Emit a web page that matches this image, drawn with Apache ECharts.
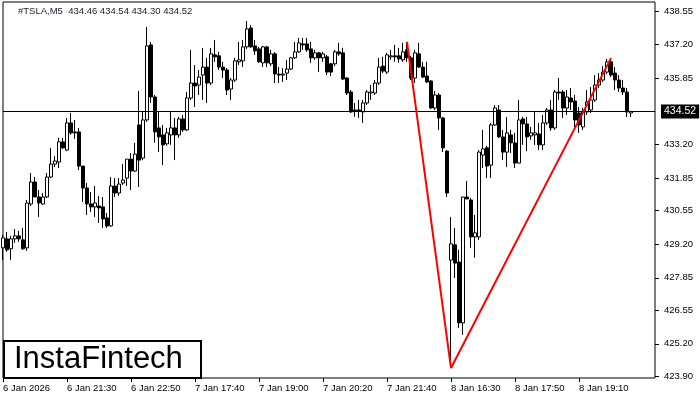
<!DOCTYPE html>
<html>
<head>
<meta charset="utf-8">
<script src="https://cdn.jsdelivr.net/npm/echarts@6/dist/echarts.min.js"></script>
<style>
  html, body { margin: 0; padding: 0; background: #fff; }
  #chart { width: 700px; height: 400px; }
</style>
</head>
<body>
<div id="chart"></div>
<script>
// M5 bars: [open, close, low, high]
const candles = [
  [429.05, 429.45, 428.56, 429.57], [429.41, 428.97, 428.89, 429.69], [429.01, 429.41, 428.56, 429.53],
  [429.41, 429.53, 429.25, 429.81], [429.53, 429.41, 429.29, 429.73], [429.37, 429.01, 428.97, 429.85],
  [429.05, 430.85, 428.93, 430.97], [430.81, 431.69, 430.73, 432.05], [431.69, 431.09, 431.09, 431.89],
  [431.09, 430.85, 430.29, 431.37], [430.81, 431.09, 430.77, 431.25], [431.09, 431.89, 431.05, 432.05],
  [431.89, 432.41, 431.85, 433.06], [432.41, 432.53, 432.29, 432.73], [432.49, 433.30, 432.25, 433.46],
  [433.30, 433.06, 433.02, 433.46], [432.97, 434.06, 432.93, 434.26], [434.06, 433.66, 433.58, 434.46],
  [433.70, 433.66, 433.42, 434.18], [433.70, 432.33, 432.17, 433.86], [432.33, 431.45, 430.89, 432.33],
  [431.45, 430.81, 430.37, 431.65], [430.81, 430.69, 430.49, 431.29], [430.69, 430.85, 430.29, 431.53],
  [430.73, 430.65, 430.05, 431.13], [430.69, 430.21, 429.85, 431.09], [430.25, 429.93, 429.85, 430.45],
  [429.93, 431.53, 429.89, 431.89], [431.53, 431.25, 431.09, 431.85], [431.25, 431.61, 431.13, 431.85],
  [431.65, 431.77, 431.57, 432.41], [431.85, 432.61, 431.53, 432.61], [432.61, 432.13, 431.37, 432.85],
  [432.13, 432.81, 432.09, 433.26],
  // 7 Jan
  [433.98, 432.57, 431.49, 435.34], [432.65, 434.18, 432.57, 434.50], [434.18, 437.15, 434.10, 437.91],
  [437.19, 435.10, 434.86, 437.31], [435.10, 433.70, 433.26, 435.18], [433.86, 433.50, 432.89, 434.50],
  [433.58, 433.18, 432.37, 433.98], [433.22, 433.66, 433.14, 433.86], [433.58, 433.86, 433.18, 434.50],
  [433.86, 433.58, 432.57, 434.26], [433.58, 434.22, 433.46, 434.30], [434.22, 433.78, 433.70, 434.38],
  [433.78, 435.06, 433.74, 435.30], [435.06, 435.66, 434.98, 436.99], [435.66, 435.54, 434.70, 436.38],
  [435.58, 435.90, 435.18, 436.18], [435.98, 436.30, 434.98, 437.07], [436.30, 435.66, 434.86, 436.67],
  [435.66, 436.83, 435.58, 437.07], [436.79, 436.71, 436.51, 437.39], [436.75, 436.30, 436.18, 436.91],
  [436.30, 436.18, 435.86, 436.51], [436.18, 435.38, 435.18, 436.26], [435.42, 435.78, 434.98, 435.86],
  [435.78, 436.55, 435.70, 436.67], [436.51, 436.59, 436.39, 437.31], [436.55, 437.11, 436.30, 437.39],
  [437.11, 437.83, 437.03, 438.15], [437.87, 437.11, 437.07, 437.99], [437.15, 436.95, 436.79, 437.39],
  [437.03, 436.51, 436.47, 437.11], [436.47, 437.11, 436.30, 437.15], [437.11, 436.47, 436.30, 437.15],
  [436.43, 436.83, 436.34, 436.99], [436.83, 436.02, 435.66, 436.91], [436.02, 435.98, 435.66, 436.30],
  [435.98, 436.02, 435.70, 436.26], [436.06, 436.22, 435.78, 436.59], [436.22, 436.67, 436.18, 436.71],
  [436.67, 436.91, 436.63, 437.31], [436.91, 437.27, 436.87, 437.47], [437.23, 437.19, 436.99, 437.47],
  [437.23, 436.99, 436.91, 437.47], [437.03, 436.67, 436.47, 437.31], [436.67, 436.87, 436.59, 436.99],
  [436.87, 436.67, 436.10, 436.91], [436.67, 436.83, 436.51, 436.91], [436.71, 436.10, 435.98, 436.79],
  [436.43, 436.10, 435.94, 436.47], [436.43, 436.91, 436.34, 436.99], [436.91, 436.83, 436.75, 437.27],
  [436.87, 435.82, 435.78, 437.07], [435.86, 435.26, 435.18, 435.90], [435.30, 434.50, 434.46, 435.38],
  [434.58, 434.54, 434.30, 434.86], [434.58, 434.54, 434.26, 434.98], [434.50, 434.86, 434.06, 434.98],
  [434.86, 435.30, 434.78, 435.38], [435.26, 435.30, 434.98, 435.58], [435.26, 435.66, 435.18, 435.78],
  [435.66, 436.30, 435.58, 436.67], [436.34, 436.14, 436.06, 436.71], [436.10, 436.79, 436.02, 436.87],
  [436.71, 436.75, 436.59, 436.99], [436.75, 436.71, 436.51, 437.19], [436.75, 436.63, 436.47, 437.07],
  [436.59, 436.91, 436.51, 437.27], [436.99, 436.67, 436.51, 437.31], [436.67, 435.86, 435.78, 436.75],
  [435.86, 436.87, 435.66, 436.99], [436.83, 436.30, 436.26, 437.27], [436.30, 435.90, 435.86, 436.51],
  [435.94, 435.70, 435.66, 436.51], [435.74, 434.66, 434.62, 435.78], [434.66, 435.18, 434.58, 435.34],
  [435.18, 434.26, 433.78, 435.26], [434.26, 433.06, 432.89, 434.30], [432.93, 431.25, 431.09, 432.97],
  // 8 Jan
  [428.56, 429.21, 424.51, 430.29], [429.17, 428.44, 427.84, 429.85], [428.48, 426.04, 425.84, 428.97],
  [426.04, 431.09, 425.56, 431.09], [431.09, 431.01, 431.01, 431.73], [430.97, 429.49, 429.05, 431.05],
  [429.49, 429.65, 428.65, 430.37], [429.49, 432.89, 429.37, 432.97], [432.77, 433.02, 432.25, 433.78],
  [433.06, 432.33, 431.85, 433.14], [432.37, 433.98, 431.85, 434.06], [433.98, 434.66, 433.94, 434.78],
  [434.58, 433.50, 433.46, 434.78], [433.50, 432.89, 432.57, 433.78], [432.89, 433.66, 432.29, 434.30],
  [433.58, 433.26, 432.85, 433.78], [433.26, 432.45, 432.25, 433.66], [432.45, 434.18, 432.45, 434.98],
  [434.22, 434.02, 433.18, 434.30], [434.02, 433.50, 432.93, 434.30], [433.54, 433.66, 433.38, 433.90],
  [433.58, 433.66, 433.18, 434.50], [433.62, 433.18, 432.97, 434.06], [433.18, 434.06, 432.97, 434.38],
  [434.06, 434.58, 433.98, 434.66], [434.58, 433.86, 433.74, 434.98], [433.86, 435.30, 433.78, 435.38],
  [435.30, 435.26, 434.98, 435.86], [435.30, 434.66, 434.26, 435.38], [434.66, 435.10, 434.38, 435.38],
  [435.06, 434.90, 434.58, 435.46], [434.94, 434.18, 433.86, 435.18], [434.46, 433.98, 433.66, 434.70],
  [433.90, 434.50, 433.78, 434.66], [434.50, 434.90, 434.38, 435.38], [434.58, 434.98, 434.46, 435.50],
  [434.98, 435.58, 434.90, 435.98], [435.58, 435.78, 435.46, 436.06], [435.78, 436.10, 435.70, 436.34],
  [436.10, 436.51, 436.02, 436.63], [436.51, 435.98, 435.90, 436.67], [436.06, 435.78, 435.38, 436.30],
  [435.78, 435.46, 435.30, 435.98], [435.46, 435.30, 435.18, 435.78], [435.30, 434.50, 434.30, 435.46],
  [434.46, 434.52, 434.30, 434.54]
];

// trading sessions: day, first bar (minutes), number of slots on the axis
const sessions = [['6 Jan', 20 * 60 + 10, 34], ['7 Jan', 16 * 60 + 30, 78], ['8 Jan', 16 * 60 + 30, 52]];

const timeLabels = ['6 Jan 2026', '6 Jan 21:30', '6 Jan 22:50', '7 Jan 17:40', '7 Jan 19:00',
  '7 Jan 20:20', '7 Jan 21:40', '8 Jan 16:30', '8 Jan 17:50', '8 Jan 19:10'];
const priceTicks = [423.90, 425.20, 426.55, 427.85, 429.20, 430.55, 431.85, 433.20, 435.85, 437.20, 438.55];

// red pattern line: [bar index, price]
const patternPoints = [[101, 437.31], [112, 424.23], [152, 436.66]];

const symbolName = '#TSLA,M5';
const lastBar = { open: 434.46, high: 434.54, low: 434.30, close: 434.52 };

const categories = [];
sessions.forEach(([day, start, count]) => {
  for (let k = 0; k < count; k++) {
    const m = start + k * 5;
    const hh = String(Math.floor(m / 60)).padStart(2, '0');
    const mm = String(m % 60).padStart(2, '0');
    categories.push(day + ' ' + hh + ':' + mm);
  }
});

const showTick = (i) => i % 16 === 0 && i < candles.length;

const chart = echarts.init(document.getElementById('chart'));

chart.setOption({
  animation: false,
  backgroundColor: '#fff',
  textStyle: { fontFamily: 'Liberation Sans' },
  grid: {
    left: 3, right: 45, top: 2, bottom: 22,
    show: true, borderColor: '#000', borderWidth: 1
  },
  xAxis: {
    type: 'category',
    data: categories,
    boundaryGap: false,
    axisLine: { show: false },
    axisTick: { show: true, interval: showTick, length: 4, lineStyle: { color: '#000' } },
    axisLabel: {
      interval: showTick,
      align: 'left',
      margin: 5,
      fontSize: 9.5,
      color: '#000',
      formatter: (v, i) => timeLabels[i / 16] || ''
    },
    splitLine: { show: false }
  },
  yAxis: {
    type: 'value',
    position: 'right',
    min: 423.83,
    max: 438.91,
    scale: true,
    axisLine: { show: false },
    axisTick: { show: true, length: 4, customValues: priceTicks, lineStyle: { color: '#000' } },
    axisLabel: {
      customValues: priceTicks,
      margin: 9,
      fontSize: 9.5,
      color: '#000',
      formatter: (v) => v.toFixed(2)
    },
    splitLine: { show: false }
  },
  series: [
    {
      type: 'candlestick',
      data: candles,
      barWidth: 3,
      large: false,
      itemStyle: {
        color: '#fff',
        color0: '#000',
        borderColor: '#000',
        borderColor0: '#000',
        borderWidth: 1
      },
      markLine: {
        silent: true,
        symbol: 'none',
        lineStyle: { color: '#000', width: 1, type: 'solid' },
        label: {
          position: 'end',
          distance: 6,
          formatter: () => lastBar.close.toFixed(2),
          color: '#fff',
          backgroundColor: '#000',
          padding: [2, 3, 1, 3],
          fontSize: 10.5,
          fontFamily: 'Liberation Sans'
        },
        data: [{ yAxis: lastBar.close }]
      }
    },
    {
      type: 'line',
      data: patternPoints,
      symbol: 'none',
      lineStyle: { color: '#ff0000', width: 2 },
      z: 5
    }
  ],
  graphic: [
    {
      type: 'text',
      left: 18, top: 6,
      style: {
        text: symbolName + '  ' + [lastBar.open, lastBar.high, lastBar.low, lastBar.close].map(v => v.toFixed(2)).join(' '),
        fontSize: 9.5,
        fontFamily: 'Liberation Sans',
        fill: '#1a1a2e'
      }
    },
    {
      type: 'group',
      left: 3, top: 340,
      z: 100,
      children: [
        {
          type: 'rect',
          shape: { x: 1, y: 1, width: 197, height: 37 },
          style: { fill: '#fff', stroke: '#000', lineWidth: 2 }
        },
        {
          type: 'text',
          x: 11, y: 19,
          style: {
            text: 'InstaFintech',
            fontSize: 31,
            fontFamily: 'Liberation Sans',
            fill: '#000',
            textVerticalAlign: 'middle'
          }
        }
      ]
    }
  ]
});
</script>
</body>
</html>
